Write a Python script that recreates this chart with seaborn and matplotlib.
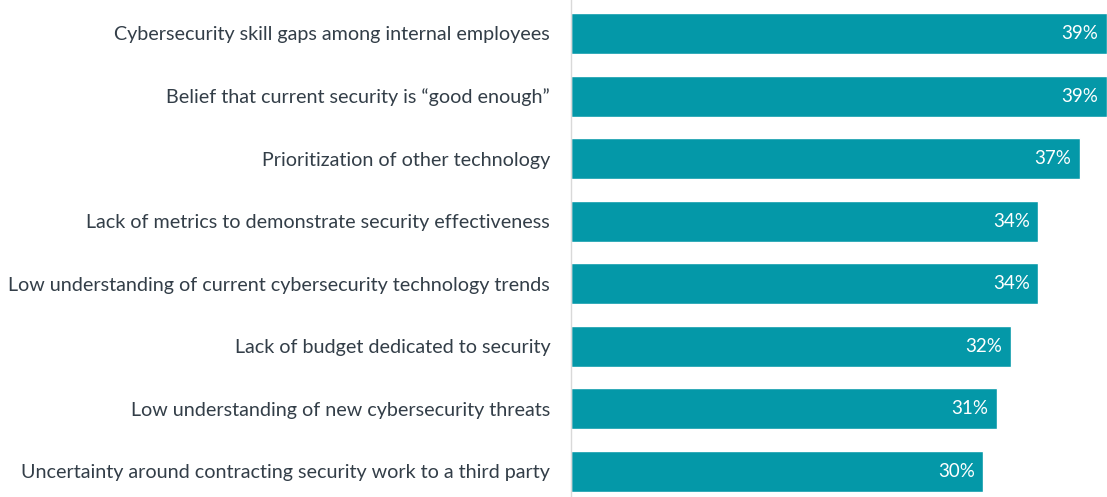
import matplotlib
matplotlib.use("Agg")
import matplotlib.pyplot as plt
import seaborn as sns
import pandas as pd

categories = [
    "Cybersecurity skill gaps among internal employees",
    "Belief that current security is \u201cgood enough\u201d",
    "Prioritization of other technology",
    "Lack of metrics to demonstrate security effectiveness",
    "Low understanding of current cybersecurity technology trends",
    "Lack of budget dedicated to security",
    "Low understanding of new cybersecurity threats",
    "Uncertainty around contracting security work to a third party",
]
values = [39, 39, 37, 34, 34, 32, 31, 30]

BAR_COLOR = "#0498A8"
TEXT_COLOR = "#333e48"

sns.set_theme(style="white")
plt.rcParams["font.family"] = ["Lato", "DejaVu Sans"]

df = pd.DataFrame({"category": categories, "value": values})

fig = plt.figure(figsize=(11.07, 4.97), dpi=100)
ax = fig.add_axes([571 / 1107, 0.0, 1 - 571 / 1107, 1.0])

sns.barplot(data=df, x="value", y="category", orient="h", color=BAR_COLOR,
            saturation=1, width=0.655, ax=ax)

ax.set_xlim(0, 39)
ax.set_ylim(7.41, -0.535)
ax.set_xlabel("")
ax.set_ylabel("")
ax.set_xticks([])
for side in ["top", "right", "bottom"]:
    ax.spines[side].set_visible(False)
ax.spines["left"].set_color("#d9d9d9")
ax.spines["left"].set_linewidth(1.0)
ax.tick_params(axis="y", length=0, pad=15, labelsize=14.2, labelcolor=TEXT_COLOR)

for i, v in enumerate(values):
    ax.text(v - 0.62, i, f"{v}%", ha="right", va="center",
            color="white", fontsize=13.5)

fig.savefig("out.png", dpi=100)
